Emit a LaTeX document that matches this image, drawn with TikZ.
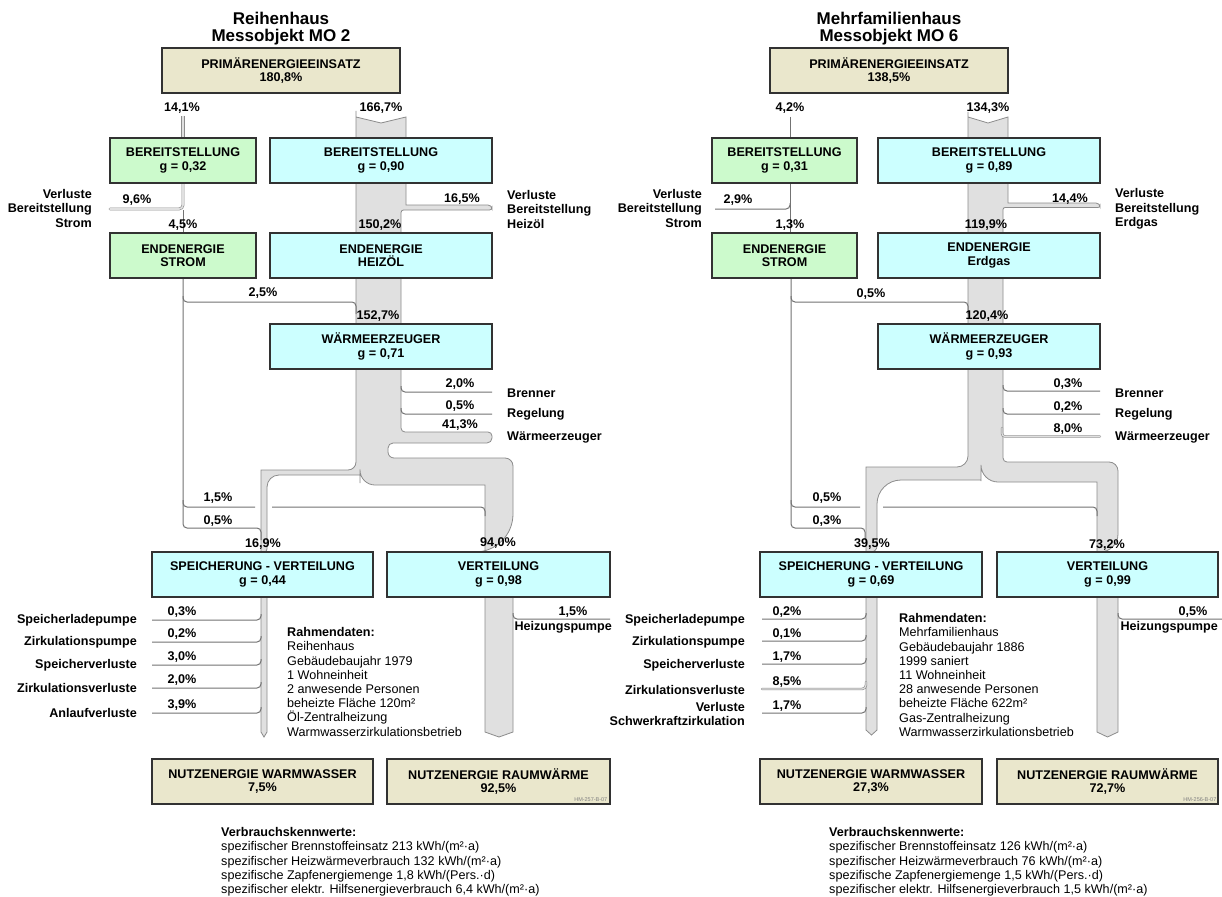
\documentclass[tikz,border=0pt]{standalone}
\usepackage{fontspec}
\setmainfont{Liberation Sans}
\definecolor{primclr}{RGB}{234,231,204}
\definecolor{stromclr}{RGB}{204,250,204}
\definecolor{waermeclr}{RGB}{204,255,255}
\definecolor{bandclr}{RGB}{224,224,224}
\definecolor{bandlineclr}{RGB}{140,140,140}
\definecolor{lineclr}{RGB}{115,115,115}
\definecolor{frameclr}{RGB}{50,50,50}
\tikzset{ %
  ,box/.style={draw=frameclr, line width=1.6pt, rectangle, minimum height=45pt, inner sep=0, align=center, font=\bfseries\fontsize{12.6}{13.5}\selectfont}
  ,prim/.style={box, fill=primclr}
  ,strom/.style={box, fill=stromclr, minimum width=146pt}
  ,waerme/.style={box, fill=waermeclr}
  ,band/.style={fill=bandclr, draw=bandlineclr, line width=0.8pt}
  ,thinband/.style={draw=bandlineclr, double=bandclr, line width=0.6pt, line cap=round}
  ,eline/.style={draw=lineclr, line width=1pt, rounded corners=4pt}
  ,pct/.style={font=\bfseries\fontsize{12.6}{14}\selectfont, inner sep=0}
  ,side/.style={font=\bfseries\fontsize{12.6}{14.5}\selectfont, inner sep=0}
  ,info/.style={font=\fontsize{12.6}{14.2}\selectfont, align=left, inner sep=0, anchor=north west}
  ,title/.style={font=\bfseries\fontsize{17}{19}\selectfont, inner sep=0, anchor=base}
  ,code/.style={font=\fontsize{5.5}{6}\selectfont, text=gray, inner sep=0.5pt, anchor=south east}
}
\begin{document}
\begin{tikzpicture}[x=1pt, y=-1pt]
\useasboundingbox (0,0) rectangle (1222,896);
\fill[white] (0,0) rectangle (1222,896);

% ---------- Reihenhaus (left) ----------
% oil flow
\draw[band] (356,117) -- (381,123) -- (406,117) -- (406,205)
  [rounded corners=4pt] -- (492,205)
  [rounded corners=2.5pt] -- (492,210) -- (401,210)
  [rounded corners=4pt] -- (401,432) -- (492,432)
  [rounded corners=5pt] -- (492,443) -- (388,443)
  [rounded corners=6pt] -- (388,458)
  [rounded corners=8pt] -- (513,458)
  [rounded corners=38pt] -- (513,552)
  [sharp corners] -- (485,552) -- (485,485)
  [rounded corners=15pt] -- (360,485)
  [rounded corners=33pt] -- (360,450)
  [sharp corners] -- (360,475)
  [rounded corners=12pt] -- (267,475)
  [rounded corners=3pt] -- (267,552)
  [sharp corners] -- (261,552) -- (261,470)
  [rounded corners=8pt] -- (356,470)
  [rounded corners=6pt] -- (356,117)
  [sharp corners] -- cycle;
\draw[band] (261,590) -- (261,732) -- (264,737) -- (267,732) -- (267,590) -- cycle;
\draw[band] (485,590) -- (485,732) -- (499,737) -- (513,732) -- (513,590) -- cycle;
\draw[eline] (401,386) -- (401,392) -- (492,392);
\draw[eline] (401,408) -- (401,414) -- (492,414);
\draw[eline] (513,613) -- (513,619) -- (610,619);

% electricity flow
\draw[thinband, line cap=butt, double distance=2.6pt] (183,116) -- (183,140);
\draw[thinband, double distance=1.6pt, rounded corners=4pt] (183,180) -- (183,209) -- (110,209);
\draw[eline] (183,210) -- (183,236);
\draw[eline] (183,276) -- (183,528) -- (261,528) -- (261,540);
\draw[eline] (183,296) -- (183,302) -- (356,302) -- (356,314);
\draw[eline] (183,500) -- (183,507) -- (255,507);
\draw[eline] (272,507) -- (485,507) -- (485,516);

% boxes
\node[prim, minimum width=238pt] (primL) at (281,70.5) {PRIMÄRENERGIEEINSATZ\\180,8\%};
\node[strom] (bsSL) at (183,160.5) {BEREITSTELLUNG\\g = 0,32};
\node[waerme, minimum width=222pt] (bsOL) at (381,160.5) {BEREITSTELLUNG\\g = 0,90};
\node[strom] (esSL) at (183,255.5) {ENDENERGIE\\STROM};
\node[waerme, minimum width=222pt] (esOL) at (381,255.5) {ENDENERGIE\\HEIZÖL};
\node[waerme, minimum width=222pt] (wezL) at (381,346.5) {WÄRMEERZEUGER\\g = 0,71};
\node[waerme, minimum width=221pt] (spvL) at (262.5,574.5) {SPEICHERUNG - VERTEILUNG\\g = 0,44};
\node[waerme, minimum width=223pt] (vtlL) at (498.5,574.5) {VERTEILUNG\\g = 0,98};
\node[prim, minimum width=221pt] (nwwL) at (262.5,781.5) {NUTZENERGIE WARMWASSER\\7,5\%};
\node[prim, minimum width=223pt] (nrwL) at (498.5,781.5) {NUTZENERGIE RAUMWÄRME\\92,5\%};
\node[code] (hmL) at (608,802) {HM-257-B-07};

% labels
\node[title] (ttlL1) at (281,25) {Reihenhaus};
\node[title] (ttlL2) at (281,41.7) {Messobjekt MO 2};
\node[pct] (pL1) at (182,108) {14,1\%};
\node[pct] (pL2) at (381,108) {166,7\%};
\node[side, anchor=east, align=right] (vbsL) at (92,208) {Verluste\\Bereitstellung\\Strom};
\node[pct] (pL3) at (137,200) {9,6\%};
\node[pct] (pL4) at (183,225) {4,5\%};
\node[pct] (pL5) at (462,199) {16,5\%};
\node[side, anchor=west, align=left] (vboL) at (507,209) {Verluste\\Bereitstellung\\Heizöl};
\node[pct] (pL6) at (380,225) {150,2\%};
\node[pct] (pL7) at (263,293) {2,5\%};
\node[pct] (pL8) at (378,316) {152,7\%};
\node[pct] (pL9) at (460,384) {2,0\%};
\node[pct] (pL10) at (460,406) {0,5\%};
\node[pct] (pL11) at (460,425) {41,3\%};
\node[side, anchor=west] (brL) at (507,393) {Brenner};
\node[side, anchor=west] (reL) at (507,414) {Regelung};
\node[side, anchor=west] (weL) at (507,437) {Wärmeerzeuger};
\node[pct] (pL12) at (218,498) {1,5\%};
\node[pct] (pL13) at (218,521) {0,5\%};
\node[pct] (pL14) at (263,544) {16,9\%};
\node[pct] (pL15) at (498,543) {94,0\%};
\node[pct] (pL16) at (573,612) {1,5\%};
\node[side, anchor=east] (hpL) at (612,627) {Heizungspumpe};
\foreach \y/\p/\t [count=\i] in {620/{0,3}/Speicherladepumpe, 642/{0,2}/Zirkulationspumpe,
    665/{3,0}/Speicherverluste, 688/{2,0}/Zirkulationsverluste, 713/{3,9}/Anlaufverluste}{
  \draw[eline] (261,\y-6) -- (261,\y) -- (152,\y);
  \node[pct] (pSL\i) at (182,\y-7.5) {\p\%};
  \node[side, anchor=east] (lSL\i) at (137,\y) {\t};
}
\node[info] (rdL) at (287,627.3) {\textbf{Rahmendaten:}\\Reihenhaus\\Gebäudebaujahr 1979\\1 Wohneinheit\\2 anwesende Personen\\beheizte Fläche 120m²\\Öl-Zentralheizung\\Warmwasserzirkulationsbetrieb};
\node[info] (vkL) at (221,827.3) {\textbf{Verbrauchskennwerte:}\\spezifischer Brennstoffeinsatz 213 kWh/(m²·a)\\spezifischer Heizwärmeverbrauch 132 kWh/(m²·a)\\spezifische Zapfenergiemenge 1,8 kWh/(Pers.·d)\\spezifischer elektr. Hilfsenergieverbrauch 6,4 kWh/(m²·a)};

% ---------- Mehrfamilienhaus (right) ----------
% gas flow
\draw[band] (968,117) -- (988,123) -- (1008,117) -- (1008,203)
  [rounded corners=4pt] -- (1100,203)
  [rounded corners=2pt] -- (1100,207.5) -- (1003,207.5)
  [rounded corners=4pt] -- (1003,462)
  [rounded corners=9pt] -- (1118,462)
  [rounded corners=18pt] -- (1118,552)
  [sharp corners] -- (1097,552) -- (1097,482)
  [rounded corners=17pt] -- (981,482)
  [rounded corners=29pt] -- (981,452)
  [sharp corners] -- (981,480)
  [rounded corners=24pt] -- (877,480)
  [rounded corners=6pt] -- (877,552)
  [sharp corners] -- (866,552) -- (866,467)
  [rounded corners=11pt] -- (968,467)
  [rounded corners=5pt] -- (968,117)
  [sharp corners] -- cycle;
\draw[band] (866,590) -- (866,730) -- (871.5,735) -- (877,730) -- (877,590) -- cycle;
\draw[band] (1097,590) -- (1097,732) -- (1107.5,737) -- (1118,732) -- (1118,590) -- cycle;
\draw[eline] (1003,385) -- (1003,391) -- (1100,391);
\draw[eline] (1003,408) -- (1003,414) -- (1100,414);
\draw[thinband, double distance=1.2pt, rounded corners=3pt] (1002,428) -- (1002,436.5) -- (1100,436.5);
\draw[eline] (1118,613) -- (1118,619) -- (1222,619);

% electricity flow
\draw[eline] (790,117) -- (790,140);
\draw[eline] (790,180) -- (790,236);
\draw[eline] (790,203) -- (790,209) -- (715,209);
\draw[eline] (791,276) -- (791,528) -- (865,528) -- (865,540);
\draw[eline] (791,296) -- (791,302) -- (968,302) -- (968,314);
\draw[eline] (791,500) -- (791,507) -- (860,507);
\draw[eline] (883,507) -- (1097,507) -- (1097,516);

% boxes
\node[prim, minimum width=238pt] (primR) at (889,70.5) {PRIMÄRENERGIEEINSATZ\\138,5\%};
\node[strom, minimum width=145pt] (bsSR) at (784.5,160.5) {BEREITSTELLUNG\\g = 0,31};
\node[waerme, minimum width=222pt] (bsGR) at (989,160.5) {BEREITSTELLUNG\\g = 0,89};
\node[strom, minimum width=145pt] (esSR) at (784.5,255.5) {ENDENERGIE\\STROM};
\node[waerme, minimum width=222pt] (esGR) at (989,255.5) {ENDENERGIE\\Erdgas};
\node[waerme, minimum width=222pt] (wezR) at (989,346.5) {WÄRMEERZEUGER\\g = 0,93};
\node[waerme, minimum width=222pt] (spvR) at (871,574.5) {SPEICHERUNG - VERTEILUNG\\g = 0,69};
\node[waerme, minimum width=221pt] (vtlR) at (1107.5,574.5) {VERTEILUNG\\g = 0,99};
\node[prim, minimum width=222pt] (nwwR) at (871,781.5) {NUTZENERGIE WARMWASSER\\27,3\%};
\node[prim, minimum width=221pt] (nrwR) at (1107.5,781.5) {NUTZENERGIE RAUMWÄRME\\72,7\%};
\node[code] (hmR) at (1217,802) {HM-256-B-07};

% labels
\node[title] (ttlR1) at (889,25) {Mehrfamilienhaus};
\node[title] (ttlR2) at (889,41.7) {Messobjekt MO 6};
\node[pct] (pR1) at (790,108) {4,2\%};
\node[pct] (pR2) at (988,108) {134,3\%};
\node[side, anchor=east, align=right] (vbsR) at (702,208) {Verluste\\Bereitstellung\\Strom};
\node[pct] (pR3) at (738,200) {2,9\%};
\node[pct] (pR4) at (790,225) {1,3\%};
\node[pct] (pR5) at (1070,199) {14,4\%};
\node[side, anchor=west, align=left] (vbgR) at (1115,209) {Verluste\\Bereitstellung\\Erdgas};
\node[pct] (pR6) at (986,225) {119,9\%};
\node[pct] (pR7) at (871,294) {0,5\%};
\node[pct] (pR8) at (987,316) {120,4\%};
\node[pct] (pR9) at (1068,384) {0,3\%};
\node[pct] (pR10) at (1068,407) {0,2\%};
\node[pct] (pR11) at (1068,429) {8,0\%};
\node[side, anchor=west] (brR) at (1115,393) {Brenner};
\node[side, anchor=west] (reR) at (1115,414) {Regelung};
\node[side, anchor=west] (weR) at (1115,437) {Wärmeerzeuger};
\node[pct] (pR12) at (827,498) {0,5\%};
\node[pct] (pR13) at (827,521) {0,3\%};
\node[pct] (pR14) at (872,544) {39,5\%};
\node[pct] (pR15) at (1107,545) {73,2\%};
\node[pct] (pR16) at (1193,612) {0,5\%};
\node[side, anchor=east] (hpR) at (1218,627) {Heizungspumpe};
\foreach \y in {619,641,664,713}
  \draw[eline] (866,\y-6) -- (866,\y) -- (762,\y);
\draw[thinband, double distance=1.2pt, rounded corners=4pt] (866,682) -- (866,689) -- (762,689);
\foreach \y/\p/\t [count=\i] in {619/{0,2}/Speicherladepumpe, 641/{0,1}/Zirkulationspumpe,
    664/{1,7}/Speicherverluste, 689/{8,5}/Zirkulationsverluste, 713/{1,7}/{Verluste\\Schwerkraftzirkulation}}{
  \node[pct] (pSR\i) at (787,\y-7) {\p\%};
  \node[side, anchor=east, align=right] (lSR\i) at (745,\y+1) {\t};
}
\node[info] (rdR) at (899,613.3) {\textbf{Rahmendaten:}\\Mehrfamilienhaus\\Gebäudebaujahr 1886\\1999 saniert\\11 Wohneinheit\\28 anwesende Personen\\beheizte Fläche 622m²\\Gas-Zentralheizung\\Warmwasserzirkulationsbetrieb};
\node[info] (vkR) at (829,827.3) {\textbf{Verbrauchskennwerte:}\\spezifischer Brennstoffeinsatz 126 kWh/(m²·a)\\spezifischer Heizwärmeverbrauch 76 kWh/(m²·a)\\spezifische Zapfenergiemenge 1,5 kWh/(Pers.·d)\\spezifischer elektr. Hilfsenergieverbrauch 1,5 kWh/(m²·a)};
\end{tikzpicture}
\end{document}
